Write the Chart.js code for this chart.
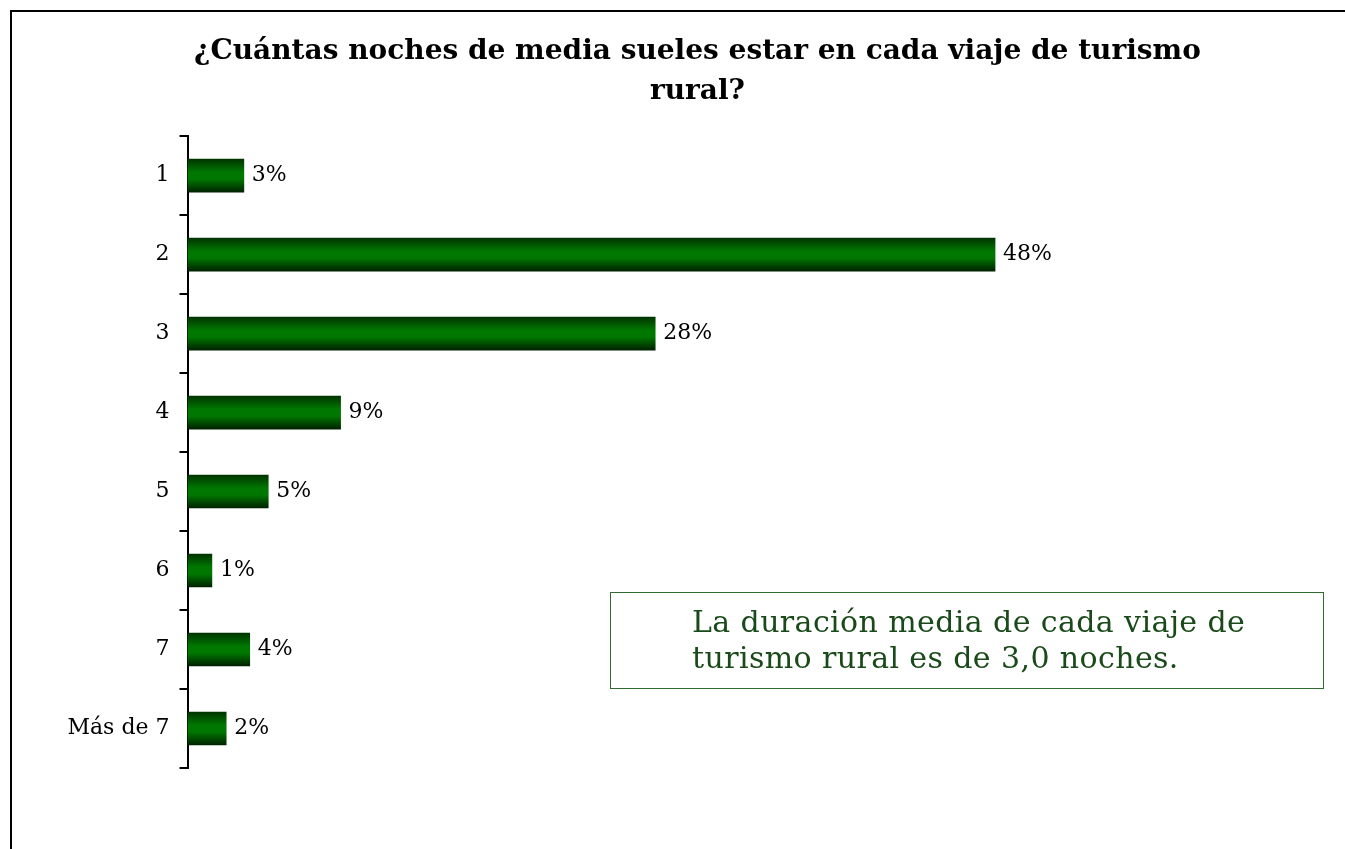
<!DOCTYPE html>
<html>
<head>
<meta charset="utf-8">
<script src="https://cdn.jsdelivr.net/npm/chart.js@4"></script>
<style>
  html, body { margin: 0; padding: 0; background: #fff; overflow: hidden; }
  #frame { position: absolute; left: 10px; top: 10px; width: 1400px; height: 900px; border-left: 2px solid #000; border-top: 2px solid #000; }
  #wrap { position: absolute; left: 0; top: 0; width: 1345px; height: 849px; }
  #nota {
    position: absolute; left: 610px; top: 592px; width: 714px; height: 97px;
    box-sizing: border-box; border: 1px solid #2f6a2f; padding: 11px 0 0 81px;
    font-family: "DejaVu Serif", serif; font-size: 30px; line-height: 36px; letter-spacing: 0.4px;
    color: #1a4a1a; white-space: nowrap;
  }
</style>
</head>
<body>
<div id="frame"></div>
<div id="wrap"><canvas id="nochesChart" width="1345" height="849"></canvas></div>
<div id="nota">La duración media de cada viaje de<br>turismo rural es de 3,0 noches.</div>
<script>
const categorias = ['1', '2', '3', '4', '5', '6', '7', 'Más de 7'];
const porcentajes = [3.35, 48.0, 27.8, 9.1, 4.8, 1.45, 3.7, 2.3];
const tituloLineas = ['¿Cuántas noches de media sueles estar en cada viaje de turismo', 'rural?'];

// etiquetas de porcentaje al final de cada barra
const etiquetasPlugin = {
    id: 'etiquetas',
    afterDatasetsDraw(chart) {
        const ctx = chart.ctx;
        const meta = chart.getDatasetMeta(0);
        ctx.save();
        ctx.font = '22px "DejaVu Serif", serif';
        ctx.fillStyle = '#000';
        ctx.textAlign = 'left';
        ctx.textBaseline = 'middle';
        meta.data.forEach((bar, i) => {
            ctx.fillText(Math.round(porcentajes[i]) + '%', bar.x + 8, bar.y);
        });
        ctx.restore();
    }
};

function degradado(context) {
    const chart = context.chart;
    const yScale = chart.scales.y;
    if (!yScale || context.dataIndex === undefined) return '#006a00';
    const centro = yScale.getPixelForValue(context.dataIndex);
    if (!isFinite(centro)) return '#006a00';
    const g = chart.ctx.createLinearGradient(0, centro - 16.5, 0, centro + 16.5);
    g.addColorStop(0, '#003400');
    g.addColorStop(0.4, '#007800');
    g.addColorStop(0.6, '#007800');
    g.addColorStop(1, '#002200');
    return g;
}

document.addEventListener('DOMContentLoaded', function () {
    const ctx = document.getElementById('nochesChart').getContext('2d');
    new Chart(ctx, {
        type: 'bar',
        data: {
            labels: categorias,
            datasets: [{
                data: porcentajes,
                backgroundColor: degradado,
                barThickness: 33,
                borderWidth: 0
            }]
        },
        options: {
            indexAxis: 'y',
            responsive: false,
            animation: false,
            layout: { padding: { left: 50, right: 0, top: 10, bottom: 81 } },
            scales: {
                x: {
                    display: false,
                    min: 0,
                    max: 68.8
                },
                y: {
                    afterFit: (scale) => { scale.width = 137.5; },
                    grid: {
                        offset: true,
                        drawOnChartArea: false,
                        color: '#000',
                        tickLength: 8,
                        lineWidth: 2
                    },
                    border: { display: true, color: '#000', width: 2 },
                    ticks: {
                        color: '#000',
                        padding: 10,
                        font: { family: '"DejaVu Serif", serif', size: 22 }
                    }
                }
            },
            plugins: {
                legend: { display: false },
                tooltip: { enabled: false },
                title: {
                    display: true,
                    text: tituloLineas,
                    color: '#000',
                    font: { family: '"DejaVu Serif", serif', size: 28, weight: 'bold', lineHeight: 1.43 },
                    padding: { top: 22, bottom: 24 }
                }
            }
        },
        plugins: [etiquetasPlugin]
    });
});
</script>
</body>
</html>
